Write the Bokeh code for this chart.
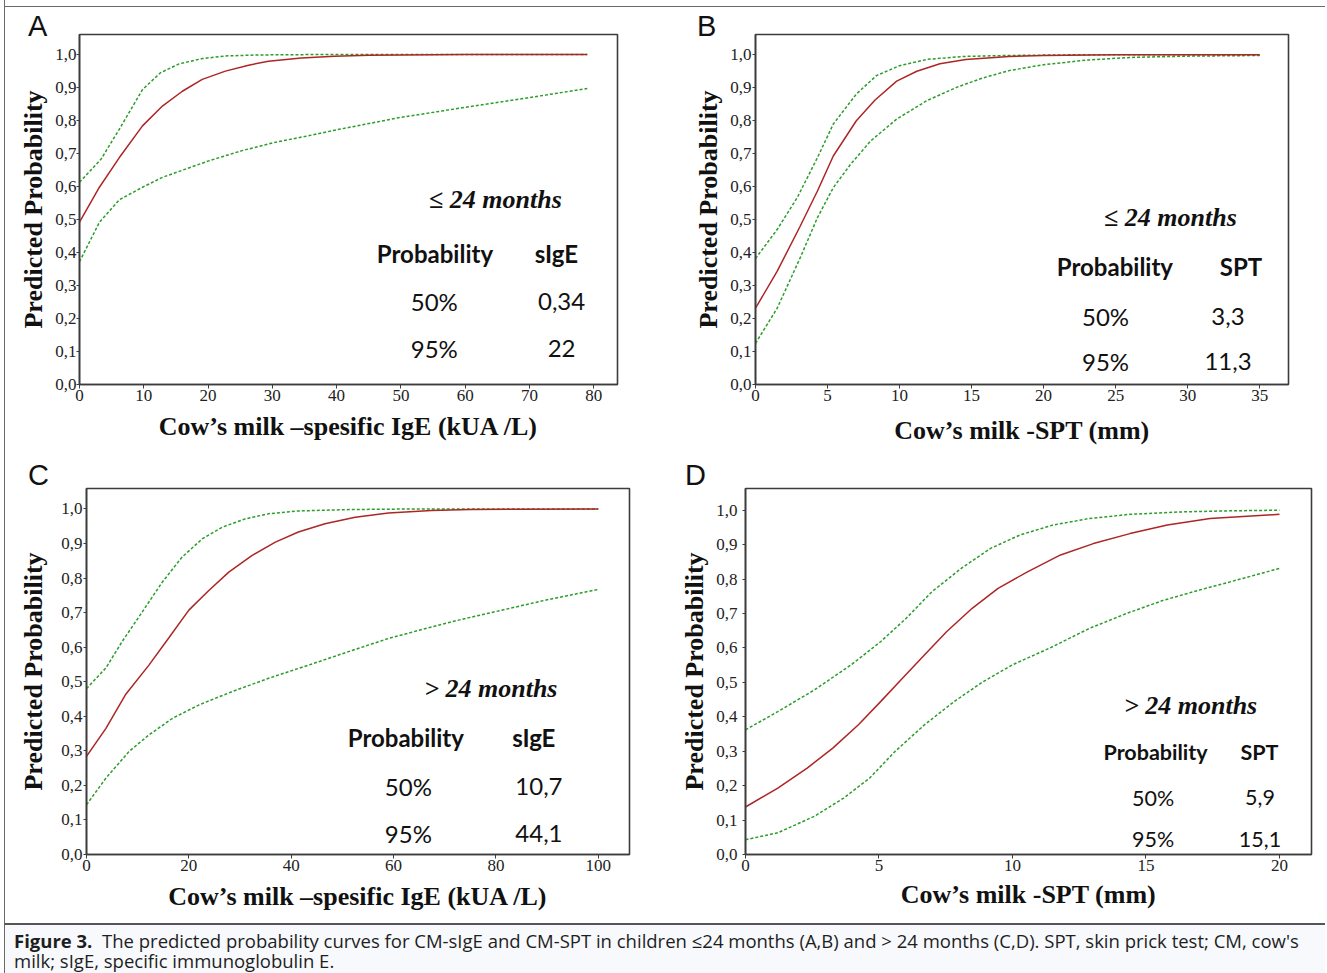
from bokeh.plotting import figure
from bokeh.models import Range1d, FixedTicker, Label, Div, CustomJSTickFormatter
from bokeh.layouts import column, row
from bokeh.embed import file_html
from bokeh.resources import INLINE

# ---------------- data ----------------
Y_TICKS = [0.0, 0.1, 0.2, 0.3, 0.4, 0.5, 0.6, 0.7, 0.8, 0.9, 1.0]

# Panel A: <= 24 months, sIgE
A_xticks = [0, 10, 20, 30, 40, 50, 60, 70, 80]
A_red_x = [0, 3.1, 6.2, 9.8, 12.9, 16, 19.1, 22.7, 26.3, 29.4, 34.5, 39.7, 45, 50, 60, 70, 79]
A_red_y = [0.492, 0.598, 0.688, 0.784, 0.844, 0.889, 0.925, 0.950, 0.968, 0.980, 0.990, 0.995, 0.998, 0.999, 1.0, 1.0, 1.0]
A_up_x = [0, 3.35, 6.2, 9.8, 12.6, 15.5, 19.1, 22.7, 27.8, 35, 45, 60, 79]
A_up_y = [0.613, 0.683, 0.774, 0.894, 0.945, 0.972, 0.988, 0.996, 0.999, 1.0, 1.0, 1.0, 1.0]
A_lo_x = [0, 3.1, 6.2, 9.8, 12.9, 16.5, 20.1, 25.3, 30.4, 35.6, 40, 50, 60, 70, 79]
A_lo_y = [0.372, 0.492, 0.56, 0.598, 0.628, 0.653, 0.678, 0.709, 0.734, 0.754, 0.772, 0.81, 0.84, 0.87, 0.897]

# Panel B: <= 24 months, SPT
B_xticks = [0, 5, 10, 15, 20, 25, 30, 35]
B_red_x = [0, 1.5, 3.1, 4.3, 5.4, 7.0, 8.3, 9.8, 11.2, 12.8, 14.6, 17.6, 20, 25, 30, 35]
B_red_y = [0.2315, 0.343, 0.48, 0.587, 0.693, 0.8, 0.863, 0.92, 0.95, 0.973, 0.986, 0.995, 0.998, 1.0, 1.0, 1.0]
B_up_x = [0, 1.5, 2.9, 4.3, 5.4, 7.0, 8.4, 10.0, 11.9, 14.4, 17.6, 22, 28, 35]
B_up_y = [0.382, 0.47, 0.567, 0.688, 0.79, 0.881, 0.937, 0.967, 0.986, 0.995, 0.998, 1.0, 1.0, 1.0]
B_lo_x = [0, 1.5, 3.1, 4.3, 5.4, 6.6, 8.0, 9.8, 11.9, 14.0, 15.8, 17.6, 20, 23, 26, 30, 35]
B_lo_y = [0.125, 0.231, 0.384, 0.506, 0.597, 0.668, 0.739, 0.805, 0.861, 0.902, 0.93, 0.952, 0.970, 0.984, 0.992, 0.996, 0.998]

# Panel C: > 24 months, sIgE
C_xticks = [0, 20, 40, 60, 80, 100]
C_red_x = [0, 3.8, 7.6, 12.2, 16.1, 20, 23.9, 27.8, 32.3, 36.9, 41.4, 46.6, 52.5, 59, 67.4, 75, 85, 100]
C_red_y = [0.284, 0.365, 0.462, 0.548, 0.627, 0.707, 0.764, 0.817, 0.865, 0.904, 0.933, 0.957, 0.976, 0.988, 0.995, 0.998, 0.999, 1.0]
C_up_x = [0, 3.8, 7, 10.9, 14.8, 18.7, 22.6, 26.5, 31, 35.6, 41.4, 51.2, 65, 100]
C_up_y = [0.48, 0.54, 0.617, 0.702, 0.788, 0.861, 0.913, 0.947, 0.971, 0.986, 0.994, 0.998, 1.0, 1.0]
C_lo_x = [0, 3.8, 8.3, 12.2, 16.8, 22, 28.4, 35.6, 43.4, 51.2, 59, 66.8, 73.2, 80, 90, 100]
C_lo_y = [0.144, 0.221, 0.298, 0.346, 0.394, 0.433, 0.471, 0.51, 0.548, 0.587, 0.625, 0.656, 0.68, 0.703, 0.737, 0.767]

# Panel D: > 24 months, SPT
D_xticks = [0, 5, 10, 15, 20]
D_red_x = [0, 1.21, 2.31, 3.27, 4.23, 5.06, 5.88, 6.71, 7.53, 8.49, 9.46, 10.56, 11.8, 13.03, 14.4, 15.8, 17.4, 20]
D_red_y = [0.138, 0.193, 0.251, 0.309, 0.377, 0.444, 0.512, 0.58, 0.647, 0.715, 0.773, 0.821, 0.87, 0.903, 0.932, 0.957, 0.976, 0.988]
D_up_x = [0, 1.21, 2.58, 3.96, 5.06, 6.02, 6.98, 8.08, 9.18, 10.28, 11.52, 12.89, 14.4, 16.3, 18, 20]
D_up_y = [0.362, 0.415, 0.478, 0.551, 0.618, 0.686, 0.763, 0.831, 0.889, 0.928, 0.957, 0.976, 0.988, 0.995, 0.998, 1.0]
D_lo_x = [0, 1.21, 2.58, 3.68, 4.65, 5.61, 6.71, 7.81, 8.9, 10, 11.38, 12.89, 14.27, 15.64, 17, 18.4, 20]
D_lo_y = [0.043, 0.063, 0.111, 0.164, 0.222, 0.3, 0.377, 0.444, 0.502, 0.551, 0.599, 0.657, 0.7, 0.738, 0.768, 0.797, 0.831]

# texts
PANEL_LETTERS = ["A", "B", "C", "D"]
PROB_HEADER = "Probability"
PROBS = ["50%", "95%"]
A_vals = ["0,34", "22"]
B_vals = ["3,3", "11,3"]
C_vals = ["10,7", "44,1"]
D_vals = ["5,9", "15,1"]
LE24 = "\u2264 24 months"
GT24 = "> 24 months"
XLAB_IGE = "Cow\u2019s milk \u2013spesific IgE (kUA /L)"
XLAB_SPT = "Cow\u2019s milk -SPT (mm)"
YLAB = "Predicted Probability"

RED = "#ad2626"
GREEN = "#2a9d2a"
FRAME = "#3c3c3c"
SERIF = "Liberation Serif"


def make_panel(width, height, mb, xr, yr_end, xticks, xlabel, series,
               group_text, group_xy, col2, col2_vals, tab_x, tab_y, tab_size,
               ylab_standoff, ytick_standoff, xlab_standoff):
    p = figure(width=width, height=height, output_backend="svg", toolbar_location=None,
               x_range=Range1d(0, xr), y_range=Range1d(0, yr_end),
               min_border_left=mb[0], min_border_right=mb[1],
               min_border_top=mb[2], min_border_bottom=mb[3],
               background_fill_color="white", border_fill_color=None)
    p.outline_line_color = FRAME
    p.outline_line_width = 1.6
    p.xgrid.grid_line_color = None
    p.ygrid.grid_line_color = None

    (rx, ry), (ux, uy), (lx, ly) = series
    p.line(ux, uy, line_color=GREEN, line_width=1.5, line_dash="3 2")
    p.line(lx, ly, line_color=GREEN, line_width=1.5, line_dash="3 2")
    p.line(rx, ry, line_color=RED, line_width=1.5)

    for ax in (p.xaxis[0], p.yaxis[0]):
        ax.axis_line_color = FRAME
        ax.axis_line_width = 1.6
        ax.major_tick_line_color = FRAME
        ax.major_tick_in = 0
        ax.minor_tick_line_color = None
        ax.major_label_text_font = SERIF
        ax.major_label_text_font_size = "17px"
        ax.major_label_text_color = "#222222"
        ax.axis_label_text_font = SERIF
        ax.axis_label_text_font_style = "bold"
        ax.axis_label_text_font_size = "26px"
        ax.axis_label_text_color = "#111111"

    p.xaxis.ticker = FixedTicker(ticks=xticks)
    p.xaxis.major_tick_out = 4
    p.xaxis.major_label_standoff = 1
    p.xaxis.axis_label = xlabel
    p.xaxis.axis_label_standoff = xlab_standoff

    p.yaxis.ticker = FixedTicker(ticks=Y_TICKS)
    p.yaxis.formatter = CustomJSTickFormatter(code="return tick.toFixed(1).replace('.', ',');")
    p.yaxis.major_tick_out = 3
    p.yaxis.major_label_standoff = ytick_standoff
    p.yaxis.axis_label = YLAB
    p.yaxis.axis_label_standoff = ylab_standoff

    p.add_layout(Label(x=group_xy[0], y=group_xy[1], text=group_text, text_font=SERIF,
                       text_font_style="bold italic", text_font_size="26px",
                       text_align="center", text_baseline="middle", text_color="#111111"))
    p.add_layout(Label(x=tab_x[0], y=tab_y[0], text=PROB_HEADER, text_font="Lato",
                       text_font_style="bold", text_font_size=tab_size,
                       text_align="center", text_baseline="middle", text_color="#111111"))
    p.add_layout(Label(x=tab_x[1], y=tab_y[0], text=col2, text_font="Lato",
                       text_font_style="bold", text_font_size=tab_size,
                       text_align="center", text_baseline="middle", text_color="#111111"))
    for i in range(2):
        p.add_layout(Label(x=tab_x[2], y=tab_y[i + 1], text=PROBS[i], text_font="Lato",
                           text_font_size=tab_size, text_align="center",
                           text_baseline="middle", text_color="#111111"))
        p.add_layout(Label(x=tab_x[3], y=tab_y[i + 1], text=col2_vals[i], text_font="Lato",
                           text_font_size=tab_size, text_align="center",
                           text_baseline="middle", text_color="#111111"))
    return p


pA = make_panel(660, 424, (79, 43, 2, 70), 83.7, 1.061, A_xticks, XLAB_IGE,
                ((A_red_x, A_red_y), (A_up_x, A_up_y), (A_lo_x, A_lo_y)),
                LE24, (64.7, 0.561), "sIgE", A_vals,
                (55.3, 74.2, 55.2, 75.0), (0.398, 0.252, 0.110), "24px", 4, 0, 8)
pB = make_panel(665, 424, (95, 37, 3, 71), 37.0, 1.0616, B_xticks, XLAB_SPT,
                ((B_red_x, B_red_y), (B_up_x, B_up_y), (B_lo_x, B_lo_y)),
                LE24, (28.8, 0.508), "SPT", B_vals,
                (24.95, 33.7, 24.3, 32.8), (0.359, 0.207, 0.070), "24px", 4, 1, 12)
pC = make_panel(660, 438, (86, 31, 2, 69), 106.1, 1.059, C_xticks, XLAB_IGE,
                ((C_red_x, C_red_y), (C_up_x, C_up_y), (C_lo_x, C_lo_y)),
                GT24, (79.0, 0.479), "sIgE", C_vals,
                (62.4, 87.4, 62.9, 88.4), (0.338, 0.196, 0.061), "24px", 10, 1, 8)
pD = make_panel(665, 438, (85, 14, 3, 69), 21.2, 1.063, D_xticks, XLAB_SPT,
                ((D_red_x, D_red_y), (D_up_x, D_up_y), (D_lo_x, D_lo_y)),
                GT24, (16.67, 0.434), "SPT", D_vals,
                (15.36, 19.25, 15.27, 19.27), (0.298, 0.165, 0.045), "21.5px", 4, 5, 6)

LETTER_CSS = ("position:absolute;font-family:'Liberation Sans';font-size:29px;"
              "line-height:29px;color:#111;")


def letter_band(height, letters, lefts, top, top_rule):
    inner = '<div style="position:relative;width:1325px;height:%dpx;overflow:visible;">' % height
    if top_rule:
        inner += ('<div style="position:absolute;left:4px;top:6px;width:1321px;height:1px;'
                  'background:#6a6a6a;"></div>')
    for ltr, lx in zip(letters, lefts):
        inner += '<div style="%sleft:%dpx;top:%dpx;">%s</div>' % (LETTER_CSS, lx, top, ltr)
    inner += '</div>'
    return Div(width=1325, height=height, margin=(0, 0, 0, 0), text=inner,
               styles={"overflow": "visible", "z-index": "5"})


band1 = letter_band(31, PANEL_LETTERS[:2], [28, 697], 12, True)
band2 = letter_band(30, PANEL_LETTERS[2:], [28, 685], 6, False)

CAPTION = ("<b>Figure 3.</b>&nbsp; The predicted probability curves for CM-sIgE and CM-SPT in children "
           "\u226424 months (A,B) and &gt; 24 months (C,D). SPT, skin prick test; CM, cow's<br>"
           "milk; sIgE, specific immunoglobulin E.")
cap = Div(width=1325, height=50, margin=(0, 0, 0, 0),
          text=('<div style="box-sizing:border-box;margin-left:4px;width:1321px;height:50px;'
                'overflow:hidden;background:#f7f9fc;border-top:2px solid #555;'
                'border-left:1px solid #6a6a6a;padding:6px 0 0 9px;'
                "font-family:'Open Sans';font-size:18.5px;line-height:19.5px;color:#1e1e1e;"
                'white-space:nowrap;">' + CAPTION + '</div>'))

layout = column(band1, row(pA, pB), band2, row(pC, pD), cap,
                styles={"box-shadow": "inset 4px 0 0 0 #ffffff, inset 5px 0 0 0 #6a6a6a"})

open("out.html", "w").write(file_html(layout, INLINE))
